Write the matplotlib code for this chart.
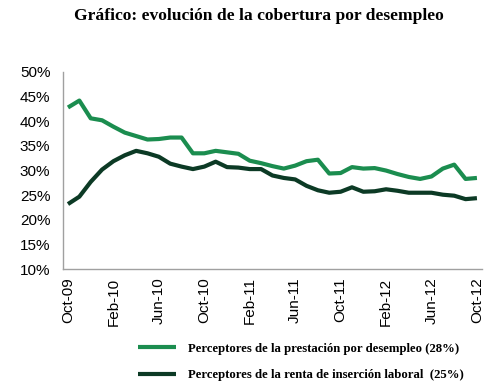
import matplotlib
matplotlib.use("Agg")
import matplotlib.pyplot as plt
from matplotlib.ticker import FuncFormatter, MultipleLocator

# monthly data, Oct-09 .. Oct-12
months = ["Oct-09", "Nov-09", "Dec-09", "Jan-10", "Feb-10", "Mar-10", "Apr-10",
          "May-10", "Jun-10", "Jul-10", "Aug-10", "Sep-10", "Oct-10", "Nov-10",
          "Dec-10", "Jan-11", "Feb-11", "Mar-11", "Apr-11", "May-11", "Jun-11",
          "Jul-11", "Aug-11", "Sep-11", "Oct-11", "Nov-11", "Dec-11", "Jan-12",
          "Feb-12", "Mar-12", "Apr-12", "May-12", "Jun-12", "Jul-12", "Aug-12",
          "Sep-12", "Oct-12"]

prestacion = [42.8, 44.2, 40.6, 40.2, 38.9, 37.7, 37.0, 36.3, 36.4, 36.7, 36.7,
              33.5, 33.5, 34.0, 33.7, 33.4, 32.0, 31.5, 30.9, 30.4, 31.0, 31.9,
              32.2, 29.4, 29.5, 30.7, 30.4, 30.5, 30.0, 29.3, 28.7, 28.3, 28.8,
              30.4, 31.2, 28.3, 28.5]

renta = [23.2, 24.7, 27.7, 30.2, 31.9, 33.1, 34.0, 33.5, 32.8, 31.4, 30.8,
         30.3, 30.8, 31.8, 30.7, 30.6, 30.3, 30.3, 29.0, 28.5, 28.2, 26.9,
         26.0, 25.5, 25.7, 26.6, 25.7, 25.8, 26.2, 25.9, 25.5, 25.5, 25.5,
         25.1, 24.9, 24.2, 24.4]

tick_every = 4

labels = ["Perceptores de la prestación por desempleo (28%)",
          "Perceptores de la renta de inserción laboral  (25%)"]
colors = ["#1b8d4f", "#0c3a25"]

fig = plt.figure(figsize=(4.99, 3.85), dpi=100)
ax = fig.add_axes([0.126, 0.301, 0.84, 0.512])

x = list(range(len(months)))
ax.plot(x, prestacion, color=colors[0], lw=3, solid_capstyle="butt", label=labels[0])
ax.plot(x, renta, color=colors[1], lw=3, solid_capstyle="butt", label=labels[1])

ax.set_ylim(10, 50)
ax.set_xlim(-0.45, len(months) - 1 + 0.45)
ax.yaxis.set_major_locator(MultipleLocator(5))
ax.yaxis.set_major_formatter(FuncFormatter(lambda v, _: f"{int(v)}%"))
ax.set_xticks(x[::tick_every])
ax.set_xticklabels(months[::tick_every], rotation=90)

for side in ["top", "right"]:
    ax.spines[side].set_visible(False)
for side in ["left", "bottom"]:
    ax.spines[side].set_color("#a0a0a0")
    ax.spines[side].set_linewidth(1)
ax.tick_params(length=0, labelsize=11, colors="black", labelfontfamily="Liberation Sans")
ax.tick_params(axis="y", pad=9)
ax.tick_params(axis="x", pad=6)

fig.text(0.518, 0.958, "Gráfico: evolución de la cobertura por desempleo",
         ha="center", va="center", family="Liberation Serif",
         fontweight="bold", fontsize=12.6)

fig.legend(loc="upper left", bbox_to_anchor=(0.276, 0.11), frameon=False,
           prop={"family": "Liberation Serif", "weight": "bold", "size": 9.2},
           handlelength=3.0, handletextpad=0.9, labelspacing=1.15,
           borderpad=0, borderaxespad=0)

fig.savefig("out.png", dpi=100)
